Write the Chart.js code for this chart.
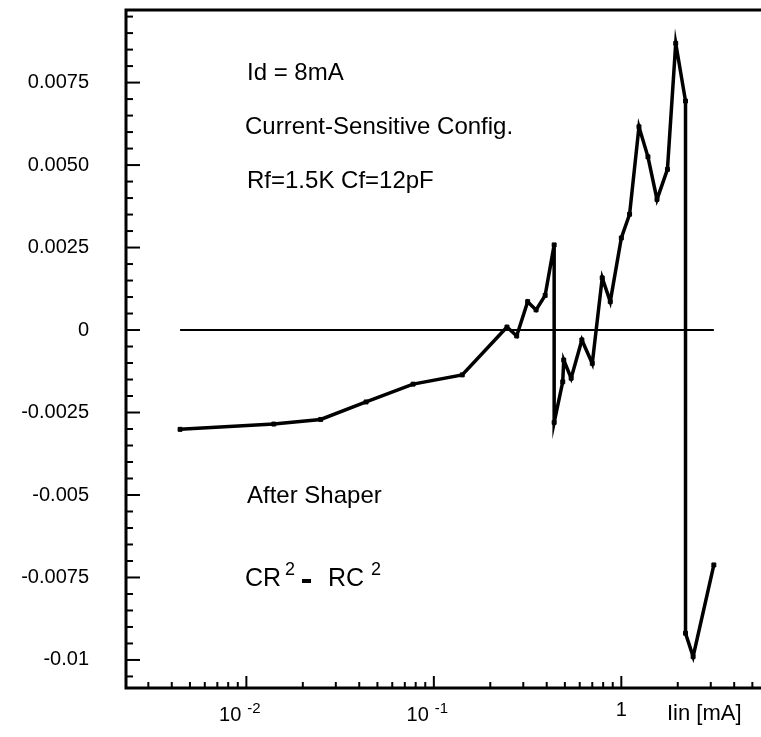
<!DOCTYPE html>
<html>
<head>
<meta charset="utf-8">
<script src="https://cdn.jsdelivr.net/npm/chart.js@4"></script>
<style>
  html, body { margin: 0; padding: 0; background: #fff; }
  #chart { display: block; }
</style>
</head>
<body>
<canvas id="chart" width="761" height="737"></canvas>
<script>
// ---------------- DATA ----------------

const iin = [0.00443, 0.0140, 0.0249, 0.0435, 0.0775, 0.1417, 0.2455, 0.2766, 0.3166, 0.351,
  0.3924, 0.4383, 0.4383, 0.487, 0.493, 0.540, 0.616, 0.700, 0.791, 0.873,
  1.0, 1.107, 1.242, 1.387, 1.55, 1.762, 1.951, 2.2, 2.2, 2.415, 3.116];
const response = [-0.00301, -0.00285, -0.00271, -0.00218, -0.00164, -0.00136, 0.00009, -0.00018, 0.00086, 0.00061,
  0.00105, 0.00258, -0.0028, -0.00157, -0.00091, -0.00146, -0.0003, -0.00101, 0.00158, 0.00086,
  0.00279, 0.00351, 0.00616, 0.00525, 0.00396, 0.00487, 0.00869, 0.00694, -0.00919, -0.0099, -0.00712];

const yMajor = [0.0075, 0.005, 0.0025, 0, -0.0025, -0.005, -0.0075, -0.01];
const yLabels = ["0.0075", "0.0050", "0.0025", "0", "-0.0025", "-0.005", "-0.0075", "-0.01"];
const xMajor = [0.01, 0.1, 1];
const xExp = ["-2", "-1", ""];

const notes = ["Id = 8mA", "Current-Sensitive Config.", "Rf=1.5K Cf=12pF", "After Shaper"];

const FONT = "'Liberation Sans', Arial, sans-serif";

// ---------------- AXES PLUGIN ----------------

const axesPlugin = {
  id: "axes",
  afterDraw(chart) {
    const c = chart.ctx;
    const a = chart.chartArea;
    const xs = chart.scales.x;
    const ys = chart.scales.y;

    c.save();
    c.strokeStyle = "#000";
    c.fillStyle = "#000";

    // frame
    c.lineWidth = 3;
    c.beginPath();
    c.moveTo(a.right, a.top);
    c.lineTo(a.left, a.top);
    c.lineTo(a.left, a.bottom);
    c.lineTo(a.right, a.bottom);
    c.stroke();

    // y ticks
    c.lineWidth = 2;
    for (let i = -21; i <= 19; i++) {
      const v = i * 0.0005;
      const py = ys.getPixelForValue(v);
      if (py < a.top + 3 || py > a.bottom - 3) continue;
      const len = i % 5 === 0 ? 14 : 7;
      c.beginPath();
      c.moveTo(a.left, py);
      c.lineTo(a.left + len, py);
      c.stroke();
    }

    // x ticks
    for (let d = -3; d <= 0; d++) {
      for (let m = 1; m <= 9; m++) {
        const v = m * Math.pow(10, d);
        if (v < xs.min || v > xs.max) continue;
        const px = xs.getPixelForValue(v);
        if (px < a.left + 3) continue;
        const len = m === 1 ? 12 : 6;
        c.beginPath();
        c.moveTo(px, a.bottom);
        c.lineTo(px, a.bottom - len);
        c.stroke();
      }
    }

    // y labels
    c.font = "20px " + FONT;
    c.textAlign = "right";
    c.textBaseline = "middle";
    yMajor.forEach((v, i) => {
      c.fillText(yLabels[i], 89, ys.getPixelForValue(v));
    });

    // x labels
    c.textBaseline = "alphabetic";
    xMajor.forEach((v, i) => {
      const px = xs.getPixelForValue(v);
      if (xExp[i]) {
        c.font = "20px " + FONT;
        c.textAlign = "right";
        c.fillText("10", px - 5, 721);
        c.font = "15px " + FONT;
        c.textAlign = "left";
        c.fillText(xExp[i], px + 1, 713);
      } else {
        c.font = "20px " + FONT;
        c.textAlign = "center";
        c.fillText("1", px, 716);
      }
    });
    c.font = "22px " + FONT;
    c.textAlign = "left";
    c.fillText("Iin [mA]", 667, 720);

    // annotations
    c.font = "24px " + FONT;
    c.fillText(notes[0], 247, 80);
    c.fillText(notes[1], 245, 134);
    c.fillText(notes[2], 247, 188);
    c.fillText(notes[3], 247, 503);

    // CR^2 - RC^2
    c.font = "25px " + FONT;
    c.fillText("CR", 245, 586);
    c.fillText("RC", 328, 586);
    c.font = "18px " + FONT;
    c.fillText("2", 285, 575);
    c.fillText("2", 371, 575);
    c.fillRect(302, 579, 9, 4);

    c.restore();
  }
};

// ---------------- CHART ----------------

const ctx = document.getElementById("chart").getContext("2d");

const chart = new Chart(ctx, {
  type: "line",
  data: {
    datasets: [
      {
        data: iin.map((x, i) => ({ x, y: response[i] })),
        borderColor: "#000",
        backgroundColor: "#000",
        borderWidth: 3.5,
        pointStyle: "rect",
        pointRadius: 2.8,
        pointBorderWidth: 1,
        tension: 0,
        order: 1
      },
      {
        data: [{ x: iin[0], y: 0 }, { x: iin[iin.length - 1], y: 0 }],
        borderColor: "#000",
        borderWidth: 2,
        pointRadius: 0,
        tension: 0,
        order: 2
      }
    ]
  },
  options: {
    responsive: false,
    animation: false,
    layout: { autoPadding: false, padding: { left: 126, right: 0, top: 10, bottom: 49 } },
    plugins: { legend: { display: false }, tooltip: { enabled: false } },
    scales: {
      x: { type: "logarithmic", min: 0.00228, max: 5.56, display: false },
      y: { type: "linear", min: -0.01085, max: 0.0097, display: false }
    }
  },
  plugins: [axesPlugin]
});
</script>
</body>
</html>
